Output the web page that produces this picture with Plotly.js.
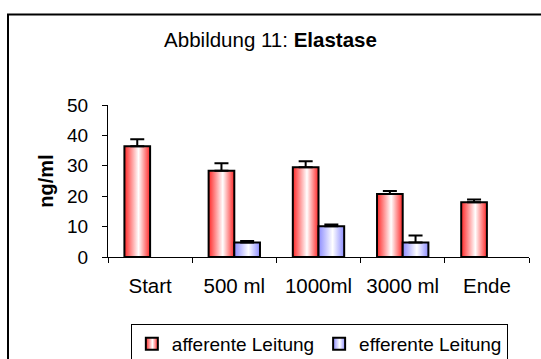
<!DOCTYPE html>
<html>
<head>
<meta charset="utf-8">
<script src="https://cdn.plot.ly/plotly-3.0.1.min.js"></script>
<style>html,body{margin:0;padding:0;background:#fff;}#plot{width:541px;height:359px;}</style>
</head>
<body>
<div id="plot"></div>
<script>
var categories = ['Start', '500 ml', '1000ml', '3000 ml', 'Ende'];
var afferentValues = [36.4, 28.4, 29.5, 20.7, 18.0];
var afferentErrors = [2.3, 2.4, 2.0, 1.0, 0.9];
var efferentValues = [null, 4.8, 10.1, 4.8, null];
var efferentErrors = [null, 0.5, 0.6, 2.3, null];
var seriesNames = ['afferente Leitung', 'efferente Leitung'];
var yTicks = [0, 10, 20, 30, 40, 50];

var FONT = 'Liberation Sans, Arial, sans-serif';

function barTrace(name, values, errors, color) {
  return {
    type: 'bar', name: name, x: categories, y: values,
    marker: {color: color, line: {color: '#000', width: 2}},
    error_y: {type: 'data', array: errors, arrayminus: values.map(function(){return 0;}),
              symmetric: false, color: '#000', thickness: 2, width: 7, visible: true}
  };
}

var data = [
  barTrace(seriesNames[0], afferentValues, afferentErrors, '#ff9a9a'),
  barTrace(seriesNames[1], efferentValues, efferentErrors, '#c8c8ff')
];

var layout = {
  width: 541, height: 359,
  margin: {l: 108, r: 12, t: 105, b: 102, autoexpand: false},
  paper_bgcolor: '#fff', plot_bgcolor: '#fff',
  font: {family: FONT, color: '#000', size: 20},
  title: {text: 'Abbildung 11: <b>Elastase</b>', x: 0.5, xref: 'container', xanchor: 'center',
          y: 1 - 40/359, yref: 'container', yanchor: 'middle',
          font: {family: FONT, size: 20.5, color: '#000'}},
  barmode: 'group', bargap: 0.39, bargroupgap: 0,
  showlegend: true,
  legend: {orientation: 'h', x: 0.502, xanchor: 'center', y: (257 - 324) / 152, yanchor: 'top',
           bordercolor: '#000', borderwidth: 1, bgcolor: '#fff',
           font: {family: FONT, size: 19, color: '#000'}, itemwidth: 30,
           traceorder: 'normal'},
  xaxis: {type: 'category', tickson: 'boundaries', ticks: 'outside', ticklen: 5,
          tickcolor: '#000', showline: true, linecolor: '#000', linewidth: 1,
          showgrid: false, zeroline: false, ticklabelstandoff: 10,
          tickfont: {family: FONT, size: 20.5, color: '#000'}},
  yaxis: {range: [0, 50], tickvals: yTicks, ticks: 'outside', ticklen: 5,
          tickcolor: '#000', showline: true, linecolor: '#000', linewidth: 1,
          showgrid: false, zeroline: false, ticklabelstandoff: 10,
          tickfont: {family: FONT, size: 19, color: '#000'},
          title: {text: '<b>ng/ml</b>', standoff: 8, font: {family: FONT, size: 20, color: '#000'}}},
  shapes: [{type: 'rect', xref: 'paper', yref: 'paper',
            x0: (8 - 108) / 421, x1: 1.5, y0: -1.5, y1: (257 - 14.5) / 152,
            line: {color: '#000', width: 2}, fillcolor: 'rgba(0,0,0,0)', layer: 'below'}]
};

function addGradient(defs, id, edge) {
  var ns = 'http://www.w3.org/2000/svg';
  var g = document.createElementNS(ns, 'linearGradient');
  g.setAttribute('id', id);
  g.setAttribute('x1', '0'); g.setAttribute('x2', '1');
  g.setAttribute('y1', '0'); g.setAttribute('y2', '0');
  [[0, edge], [0.55, '#ffffff'], [1, edge]].forEach(function(s) {
    var st = document.createElementNS(ns, 'stop');
    st.setAttribute('offset', s[0]);
    st.setAttribute('stop-color', s[1]);
    g.appendChild(st);
  });
  defs.appendChild(g);
}

var gd = document.getElementById('plot');
Plotly.newPlot(gd, data, layout, {staticPlot: true, displayModeBar: false}).then(function() {
  var svg = gd.querySelector('svg.main-svg');
  var defs = svg.querySelector('defs');
  if (!defs) { defs = document.createElementNS('http://www.w3.org/2000/svg', 'defs'); svg.insertBefore(defs, svg.firstChild); }
  var ids = ['gradRed', 'gradBlue'];
  addGradient(defs, ids[0], '#ff2828');
  addGradient(defs, ids[1], '#8c8cff');
  var traces = gd.querySelectorAll('.barlayer .trace');
  traces.forEach(function(t, i) {
    t.querySelectorAll('.point path').forEach(function(p) { p.style.fill = 'url(#' + ids[i] + ')'; });
  });
  var legTraces = gd.querySelectorAll('.legend .traces');
  legTraces.forEach(function(t, i) {
    t.querySelectorAll('.legendpoints path').forEach(function(p) { p.style.fill = 'url(#' + ids[i] + ')'; });
  });
});
</script>
</body>
</html>
